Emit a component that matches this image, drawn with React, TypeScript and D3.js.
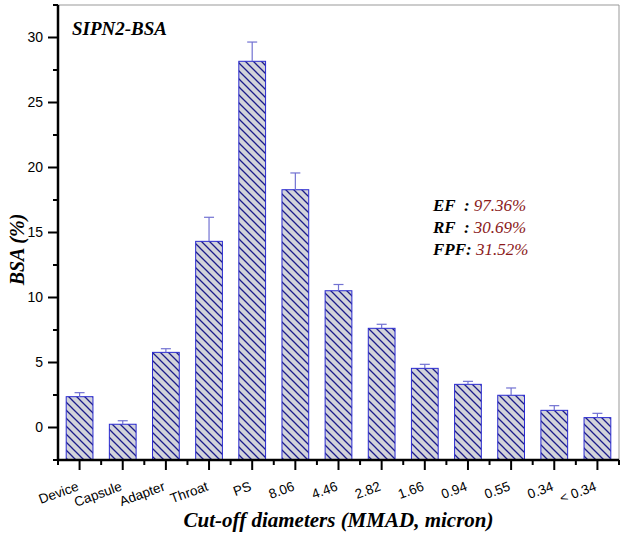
import React from "react";
import * as d3 from "d3";

const categories = ["Device", "Capsule", "Adapter", "Throat", "PS", "8.06", "4.46", "2.82", "1.66", "0.94", "0.55", "0.34", "< 0.34"];
const values = [2.37, 0.25, 5.78, 14.32, 28.17, 18.29, 10.52, 7.63, 4.55, 3.32, 2.48, 1.32, 0.76];
const errors = [0.31, 0.27, 0.28, 1.85, 1.48, 1.29, 0.48, 0.31, 0.31, 0.23, 0.56, 0.36, 0.33];
const yTicks = [0, 5, 10, 15, 20, 25, 30];
const yMinorTicks = [-2.5, 2.5, 7.5, 12.5, 17.5, 22.5, 27.5, 32.5];
const statLabels = ["EF", "RF", "FPF"];
const statSeps = ["  : ", "  : ", ": "];
const statValues = ["97.36%", "30.69%", "31.52%"];

const W = 626, H = 538;
const L = 58, R = 619, T = 5, B = 460;

export default function App() {
  const x = d3.scaleLinear().domain([-0.5, categories.length - 0.5]).range([L, R]);
  const y = d3.scaleLinear().domain([-2.5, 32.5]).range([B, T]);
  const step = x(1) - x(0);
  const bw = step * 0.62;
  const serif = "'Liberation Serif', 'Times New Roman', serif";
  const sans = "'Liberation Sans', Arial, sans-serif";
  const boundaries = d3.range(categories.length + 1).map((i) => i - 0.5);

  return (
    <svg width={W} height={H} style={{ position: "absolute", left: 0, top: 0, background: "#fff" }}>
      <defs>
        <pattern id="hatch" patternUnits="userSpaceOnUse" width={8} height={8}>
          <rect width={8} height={8} fill="#d2d3da" />
          <path d="M0,0 L8,8 M-2,6 L2,10 M6,-2 L10,2" stroke="#1c1c8a" strokeWidth={1.3} />
        </pattern>
      </defs>
      <line x1={L} x2={R} y1={T} y2={T} stroke="#999" strokeWidth={1} />
      <line x1={R} x2={R} y1={T} y2={B} stroke="#999" strokeWidth={1} />

      {values.map((v, i) => {
        const cx = x(i);
        const top = y(v);
        return (
          <g key={i}>
            <rect x={cx - bw / 2} y={top} width={bw} height={B - top} fill="url(#hatch)" stroke="#2a2ad0" strokeWidth={1} />
            <line x1={cx} x2={cx} y1={top} y2={y(v + errors[i])} stroke="#7272d2" strokeWidth={1.2} />
            <line x1={cx - 5} x2={cx + 5} y1={y(v + errors[i])} y2={y(v + errors[i])} stroke="#7272d2" strokeWidth={1.2} />
          </g>
        );
      })}

      <line x1={L} x2={L} y1={T} y2={B} stroke="#000" strokeWidth={2.5} />
      {yTicks.map((t) => (
        <g key={t}>
          <line x1={L - 10} x2={L} y1={y(t)} y2={y(t)} stroke="#000" strokeWidth={2} />
          <text x={L - 15} y={y(t)} dy="0.35em" textAnchor="end" fontFamily={sans} fontSize={14}>{t}</text>
        </g>
      ))}
      {yMinorTicks.map((t) => (
        <line key={t} x1={L - 5} x2={L} y1={y(t)} y2={y(t)} stroke="#000" strokeWidth={2} />
      ))}

      <line x1={L - 1} x2={R} y1={B} y2={B} stroke="#000" strokeWidth={2.5} />
      {categories.map((c, i) => (
        <g key={c}>
          <line x1={x(i)} x2={x(i)} y1={B} y2={B + 10} stroke="#000" strokeWidth={2} />
          <text transform={`translate(${x(i)},${B + 30}) rotate(-20)`} textAnchor="end" fontFamily={sans} fontSize={13.5}>{c}</text>
        </g>
      ))}
      {boundaries.map((b) => (
        <line key={b} x1={x(b)} x2={x(b)} y1={B} y2={B + 5} stroke="#000" strokeWidth={2} />
      ))}

      <text x={(L + R) / 2} y={527} textAnchor="middle" fontFamily={serif} fontStyle="italic" fontWeight="bold" fontSize={21}>Cut-off diameters (MMAD, micron)</text>
      <text transform={`translate(24,${(T + B) / 2 + 17}) rotate(-90)`} textAnchor="middle" fontFamily={serif} fontStyle="italic" fontWeight="bold" fontSize={20}>BSA (%)</text>
      <text x={72} y={35} fontFamily={serif} fontStyle="italic" fontWeight="bold" fontSize={19}>SIPN2-BSA</text>

      {statLabels.map((s, i) => (
        <text key={s} x={433} y={211 + i * 22} fontFamily={serif} fontSize={17} fontStyle="italic">
          <tspan fontWeight="bold" fill="#000">{s}</tspan>
          <tspan fontWeight="bold" fill="#000" xmlSpace="preserve">{statSeps[i]}</tspan>
          <tspan fill="#8b1a1a">{statValues[i]}</tspan>
        </text>
      ))}
    </svg>
  );
}
